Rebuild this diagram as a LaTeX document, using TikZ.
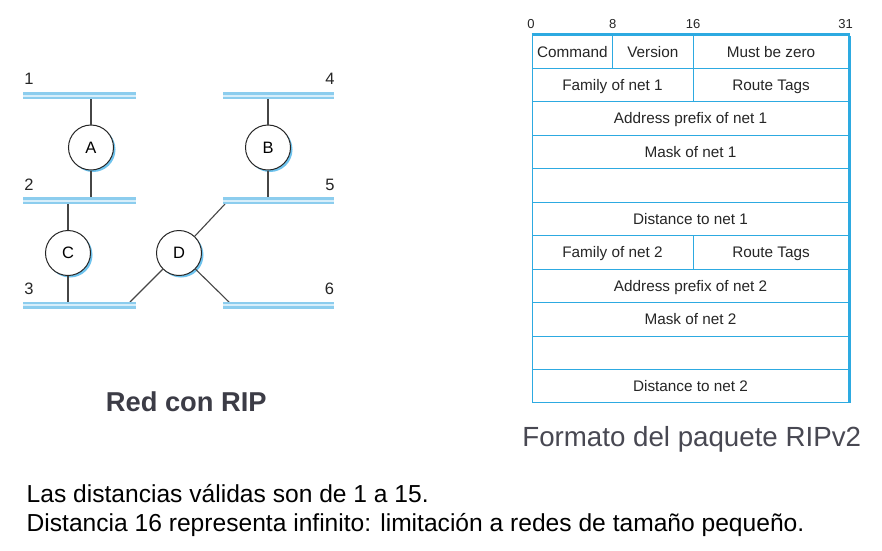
\documentclass[tikz,border=0pt]{standalone}
\usepackage{fontspec}
\setmainfont{Liberation Sans}
\usetikzlibrary{shadows}
\definecolor{tblue}{RGB}{45,170,225}
\definecolor{barblue}{RGB}{140,205,238}
\definecolor{barlight}{RGB}{215,238,250}
\definecolor{shadowblue}{RGB}{110,195,238}
\definecolor{txtgray}{RGB}{60,60,70}
\definecolor{capgray}{RGB}{72,72,82}
\definecolor{linkgray}{RGB}{70,70,70}
\tikzset{
  cell/.style={draw=tblue, line width=1pt, rectangle, inner sep=0pt, minimum height=33.45pt,
     text height=10.7pt, text depth=0pt, font=\fontsize{15.3}{15.3}\selectfont, text=black!85},
  barline/.style={line width=7.3pt, draw=barblue},
  barmid/.style={line width=2pt, draw=barlight},
  router/.style={circle, draw=black!85, line width=1pt, fill=white, minimum size=45pt, inner sep=0pt, font=\fontsize{16.5}{16.5}\selectfont,
     drop shadow={shadow xshift=2pt, shadow yshift=-2pt, fill=shadowblue, opacity=1}},
  link/.style={draw=linkgray, line width=1.1pt},
  netlabel/.style={font=\fontsize{16.5}{16.5}\selectfont, text=black!85, inner sep=0pt, anchor=base},
  bitlabel/.style={font=\fontsize{13}{13}\selectfont, text=black!85, inner sep=0pt, anchor=base}
}
\begin{document}
\begin{tikzpicture}[x=1pt,y=-1pt]
\useasboundingbox (0,0) rectangle (882,550);
\fill[white] (0,0) rectangle (882,550);

% ---------- network ----------
\coordinate (b1l) at (23,95.5);  \coordinate (b1r) at (136,95.5);
\coordinate (b4l) at (223,95.5); \coordinate (b4r) at (334,95.5);
\coordinate (b2l) at (23,200.5); \coordinate (b2r) at (136,200.5);
\coordinate (b5l) at (223,200.5);\coordinate (b5r) at (334,200.5);
\coordinate (b3l) at (23,305.3); \coordinate (b3r) at (136,305.3);
\coordinate (b6l) at (223,305.3);\coordinate (b6r) at (334,305.3);

\node[router] (A) at (91,147.5) {A};
\node[router] (B) at (268,147.5) {B};
\node[router] (C) at (68,253) {C};
\node[router] (D) at (179,253) {D};

\coordinate (a1) at (91,99);  \coordinate (a2) at (91,197);
\coordinate (bb4) at (268,99); \coordinate (bb5) at (268,197);
\coordinate (c2) at (68,204); \coordinate (c3) at (68,302);
\coordinate (d5) at (225,204); \coordinate (d3) at (130,302); \coordinate (d6) at (229,302);

\draw[link] (a1) -- (A); \draw[link] (A) -- (a2);
\draw[link] (bb4) -- (B); \draw[link] (B) -- (bb5);
\draw[link] (c2) -- (C); \draw[link] (C) -- (c3);
\draw[link] (d5) -- (D); \draw[link] (D) -- (d3); \draw[link] (D) -- (d6);

\foreach \l/\r in {b1l/b1r,b4l/b4r,b2l/b2r,b5l/b5r,b3l/b3r,b6l/b6r}{
  \draw[barline] (\l) -- (\r);
  \draw[barmid] (\l) -- (\r);
}

\node[netlabel] (n1) at (29,84) {1};
\node[netlabel] (n4) at (330,84) {4};
\node[netlabel] (n2) at (29,190) {2};
\node[netlabel] (n5) at (330,190) {5};
\node[netlabel] (n3) at (29,294.3) {3};
\node[netlabel] (n6) at (329.5,294.3) {6};

\node[anchor=base, inner sep=0pt, font=\bfseries\fontsize{27.3}{27.3}\selectfont, text=txtgray] (red) at (186.3,411.7) {Red con RIP};

% ---------- RIPv2 packet ----------
\node[bitlabel] (bit0) at (531,28.3) {0};
\node[bitlabel] (bit8) at (612.7,28.3) {8};
\node[bitlabel] (bit16) at (693,28.3) {16};
\node[bitlabel, anchor=base east] (bit31) at (853,28.3) {31};

\node[cell, minimum width=80.7pt] (cmd) at (572.35,51.7) {Command};
\node[cell, minimum width=80.3pt] (ver) at (652.85,51.7) {Version};
\node[cell, minimum width=156pt] (mbz) at (771,51.7) {Must be zero};
\node[cell, minimum width=161pt] (fam1) at (612.5,85.2) {Family of net 1};
\node[cell, minimum width=156pt] (rt1) at (771,85.2) {Route Tags};
\node[cell, minimum width=317pt] (adr1) at (690.5,118.6) {Address prefix of net 1};
\node[cell, minimum width=317pt] (msk1) at (690.5,152.1) {Mask of net 1};
\node[cell, minimum width=317pt] (emp1) at (690.5,185.5) {};
\node[cell, minimum width=317pt] (dst1) at (690.5,219.0) {Distance to net 1};
\node[cell, minimum width=161pt] (fam2) at (612.5,252.4) {Family of net 2};
\node[cell, minimum width=156pt] (rt2) at (771,252.4) {Route Tags};
\node[cell, minimum width=317pt] (adr2) at (690.5,285.9) {Address prefix of net 2};
\node[cell, minimum width=317pt] (msk2) at (690.5,319.3) {Mask of net 2};
\node[cell, minimum width=317pt] (emp2) at (690.5,352.8) {};
\node[cell, minimum width=317pt] (dst2) at (690.5,386.2) {Distance to net 2};

\draw[tblue, line width=3pt] (cmd.north west) -- (mbz.north east);
\draw[tblue, line width=3pt] ([yshift=-1.5pt]mbz.north east) -- ([yshift=0.5pt]dst2.south east);

\node[anchor=base, inner sep=0pt, font=\fontsize{27.7}{27.7}\selectfont, text=capgray] (fmt) at (691.7,446.7) {Formato del paquete RIPv2};

% ---------- bottom text ----------
\node[anchor=base west, font=\fontsize{24.6}{24.6}\selectfont, text=black, inner sep=0pt] (t1) at (26.5,502.7) {Las distancias válidas son de 1 a 15.};
\node[anchor=base west, font=\fontsize{24.6}{24.6}\selectfont, text=black, inner sep=0pt] (t2) at (26.5,531) {Distancia 16 representa infinito: limitación a redes de tamaño pequeño.};
\end{tikzpicture}
\end{document}
